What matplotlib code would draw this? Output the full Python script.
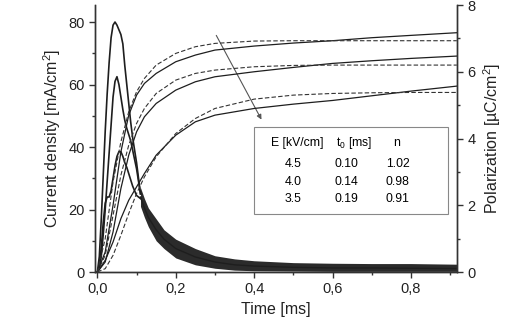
import numpy as np
import matplotlib
matplotlib.use("Agg")
import matplotlib.pyplot as plt

plt.rcParams['font.family'] = ['Liberation Sans', 'DejaVu Sans']
plt.rcParams['mathtext.fontset'] = 'custom'
plt.rcParams['mathtext.rm'] = 'Liberation Sans'
plt.rcParams['mathtext.it'] = 'Liberation Sans:italic'

# current density pulses (mA/cm2), rising part up to where they merge
t_pulse = [0, 0.005, 0.01, 0.015, 0.02, 0.025, 0.03, 0.035, 0.04, 0.045, 0.05,
           0.055, 0.06, 0.065, 0.07, 0.075, 0.08, 0.085, 0.09, 0.095, 0.10, 0.11]
j_45 = [0, 5, 17, 31, 45, 57, 67, 75, 79, 80, 79, 77.5, 76, 73, 66, 60, 54, 48, 43, 39, 35, 25]
j_40 = [0, 1, 5, 12, 20, 29, 38, 47, 56, 61, 62.5, 60, 56, 52, 48.5, 46, 44, 42, 39, 36, 33, 25]
j_35 = [0, 2, 8, 16, 22, 24, 24, 26, 30, 34, 37, 38.5, 38.5, 37, 35, 33.5, 31.5, 29.5, 27.5, 26, 24.5, 23.5]

# common noisy tail: centre and spread of the noise band
t_tail = [0.11, 0.12, 0.13, 0.15, 0.17, 0.2, 0.25, 0.3, 0.35, 0.4, 0.5, 0.6, 0.7, 0.8, 0.917]
j_tail = [24, 20.5, 17.5, 13.5, 10.5, 7.5, 4.8, 3.2, 2.3, 1.9, 1.5, 1.3, 1.3, 1.2, 1.1]
j_lo = [21, 17.5, 14.5, 10, 7.5, 4.5, 2.3, 1.2, 0.6, 0.4, 0.3, 0.2, 0.2, 0.2, 0.2]
j_hi = [27, 23.5, 20.5, 17, 13.5, 10.5, 7.5, 5.2, 4.2, 3.6, 3.0, 2.8, 2.7, 2.7, 2.5]

# polarization (uC/cm2): measured (solid) and fitted (dashed)
t_pol = [0, 0.02, 0.04, 0.06, 0.08, 0.10, 0.12, 0.15, 0.2, 0.25, 0.3, 0.4, 0.5, 0.6, 0.7, 0.8, 0.917]
p_45 = [0, 0.6, 2.0, 3.6, 4.7, 5.3, 5.65, 5.95, 6.3, 6.5, 6.65, 6.77, 6.86, 6.93, 7.02, 7.09, 7.17]
p_40 = [0, 0.3, 1.2, 2.5, 3.5, 4.2, 4.65, 5.05, 5.45, 5.7, 5.85, 6.0, 6.13, 6.25, 6.33, 6.4, 6.47]
p_35 = [0, 0.35, 0.9, 1.6, 2.15, 2.55, 2.95, 3.5, 4.1, 4.5, 4.7, 4.9, 5.03, 5.14, 5.28, 5.42, 5.57]
fit_45 = [0, 1.0, 2.7, 3.9, 4.8, 5.4, 5.8, 6.2, 6.55, 6.75, 6.85, 6.92, 6.93, 6.93, 6.93, 6.93, 6.93]
fit_40 = [0, 0.5, 1.7, 2.9, 3.8, 4.45, 4.9, 5.35, 5.75, 5.95, 6.05, 6.15, 6.19, 6.2, 6.2, 6.2, 6.2]
fit_35 = [0, 0.1, 0.5, 1.1, 1.75, 2.35, 2.85, 3.45, 4.15, 4.6, 4.9, 5.18, 5.3, 5.35, 5.37, 5.38, 5.38]

# table inside the plot
E_vals = ['4.5', '4.0', '3.5']
t0_vals = ['0.10', '0.14', '0.19']
n_vals = ['1.02', '0.98', '0.91']

fig = plt.figure(figsize=(5.32, 3.34), dpi=100)
ax = fig.add_axes([0.1786, 0.1856, 0.6805, 0.7994])
ax2 = ax.twinx()

dk = '#1e1e1e'
for j in (j_45, j_40, j_35):
    ax.plot(t_pulse, j, color=dk, lw=1.2)
ax.fill_between(t_tail, j_lo, j_hi, color='#2b2b2b', lw=0)
ax.plot(t_tail, j_tail, color=dk, lw=1.0)

for p in (p_45, p_40, p_35):
    ax2.plot(t_pol, p, color=dk, lw=0.9)
for p in (fit_45, fit_40, fit_35):
    ax2.plot(t_pol, p, color='#333333', lw=0.8, ls=(0, (4, 2)))

ax.set_xlim(-0.006, 0.9176)
ax.set_ylim(0, 85.44)
ax2.set_ylim(0, 8)

ax.set_xticks([0, 0.2, 0.4, 0.6, 0.8])
ax.set_xticklabels(['0,0', '0,2', '0,4', '0,6', '0,8'])
ax.set_xticks([0.1, 0.3, 0.5, 0.7, 0.9], minor=True)
ax.set_yticks([0, 20, 40, 60, 80])
ax.set_yticks([10, 30, 50, 70], minor=True)
ax2.set_yticks([0, 2, 4, 6, 8])
ax2.set_yticks([1, 3, 5, 7], minor=True)

for a in (ax, ax2):
    a.spines['top'].set_visible(False)
    for s in a.spines.values():
        s.set_color('#333333')
        s.set_linewidth(1.0)
    a.tick_params(which='major', length=4, width=1, color='#333333',
                  labelsize=10.5, labelcolor='#222222')
    a.tick_params(which='minor', length=2.5, width=1, color='#333333')

ax.set_xlabel('Time [ms]', fontsize=11.5, color='#222222')
ax.set_ylabel('Current density [mA/cm$^2$]', fontsize=11.5, color='#222222')
ax2.set_ylabel('Polarization [µC/cm$^2$]', fontsize=11.5, color='#222222')

ax.annotate('', xy=(0.422, 48), xytext=(0.30, 76.5),
            arrowprops=dict(arrowstyle='-|>', color='#555555', lw=0.8,
                            mutation_scale=7))

# table box
box = plt.Rectangle((0.4, 18.6), 0.495, 27.9, fill=True, facecolor='white',
                    edgecolor='#888888', lw=0.8, zorder=3)
ax.add_patch(box)
fs = 8.8
ax.text(0.51, 41.4, 'E [kV/cm]', ha='center', va='center', fontsize=fs, zorder=4)
ax.text(0.655, 41.4, 't$_0$ [ms]', ha='center', va='center', fontsize=fs, zorder=4)
ax.text(0.764, 41.4, 'n', ha='center', va='center', fontsize=fs, zorder=4)
rows_y = [34.6, 28.9, 23.3]
for k in range(3):
    ax.text(0.5, rows_y[k], E_vals[k], ha='center', va='center', fontsize=fs, zorder=4)
    ax.text(0.636, rows_y[k], t0_vals[k], ha='center', va='center', fontsize=fs, zorder=4)
    ax.text(0.766, rows_y[k], n_vals[k], ha='center', va='center', fontsize=fs, zorder=4)

fig.savefig('out.png', dpi=100)
